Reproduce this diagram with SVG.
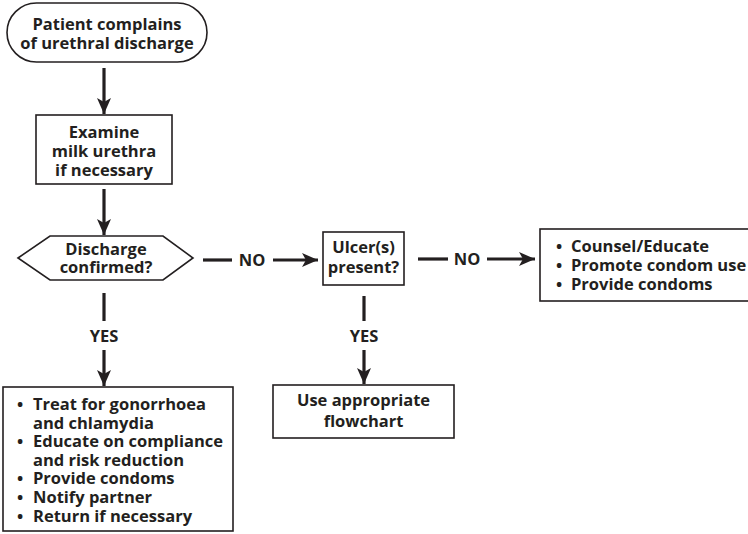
<svg xmlns="http://www.w3.org/2000/svg" width="748" height="534" viewBox="0 0 748 534">
  <defs>
    <marker id="head" markerUnits="userSpaceOnUse" markerWidth="18" markerHeight="14" refX="16" refY="7" orient="auto">
      <path d="M0,0 L16,7 L0,14 L4,7 Z" fill="#231f20"/>
    </marker>
    <style>
      .box { fill: #fff; stroke: #231f20; stroke-width: 1.6; }
      .t { font-family: "Open Sans", "Liberation Sans", sans-serif; font-weight: 700; font-size: 16.5px; fill: #231f20; }
      .c { text-anchor: middle; }
      .ln { stroke: #231f20; stroke-width: 3.2; fill: none; }
      .arr { stroke: #231f20; stroke-width: 3.2; fill: none; marker-end: url(#head); }
    </style>
  </defs>
  <rect width="748" height="534" fill="#fff"/>

  <g id="connectors">
    <line class="arr" x1="104" y1="68" x2="104" y2="114"/>
    <line class="arr" x1="104" y1="189" x2="104" y2="235"/>
    <line class="ln" x1="203" y1="260" x2="232" y2="260"/>
    <text class="t c" x="252" y="266">NO</text>
    <line class="arr" x1="273" y1="260" x2="318" y2="260"/>
    <line class="ln" x1="104" y1="293" x2="104" y2="321"/>
    <text class="t c" x="104" y="342">YES</text>
    <line class="arr" x1="104" y1="350" x2="104" y2="386"/>
    <line class="ln" x1="418" y1="259" x2="448" y2="259"/>
    <text class="t c" x="467" y="265">NO</text>
    <line class="arr" x1="487" y1="259" x2="535" y2="259"/>
    <line class="ln" x1="364" y1="296" x2="364" y2="321"/>
    <text class="t c" x="364" y="342">YES</text>
    <line class="arr" x1="364" y1="350" x2="364" y2="384"/>
  </g>

  <g id="start">
    <rect class="box" x="7" y="3" width="200" height="59" rx="29.5"/>
    <text class="t c" x="107" y="30">Patient complains</text>
    <text class="t c" x="107" y="49">of urethral discharge</text>
  </g>

  <g id="examine">
    <rect class="box" x="36" y="115" width="136" height="69"/>
    <text class="t c" x="104" y="138">Examine</text>
    <text class="t c" x="104" y="157">milk urethra</text>
    <text class="t c" x="104" y="176">if necessary</text>
  </g>

  <g id="discharge">
    <polygon class="box" points="18,258 50,236 163,236 193,258 163,280 50,280"/>
    <text class="t c" x="106" y="255">Discharge</text>
    <text class="t c" x="106" y="273">confirmed?</text>
  </g>

  <g id="ulcer">
    <rect class="box" x="323" y="232" width="81" height="53"/>
    <text class="t c" x="363.5" y="253">Ulcer(s)</text>
    <text class="t c" x="363.5" y="273">present?</text>
  </g>

  <g id="counsel">
    <rect class="box" x="540" y="229" width="220" height="72"/>
    <text class="t" x="556" y="252">•</text>
    <text class="t" x="571" y="252">Counsel/Educate</text>
    <text class="t" x="556" y="271">•</text>
    <text class="t" x="571" y="271">Promote condom use</text>
    <text class="t" x="556" y="290">•</text>
    <text class="t" x="571" y="290">Provide condoms</text>
  </g>

  <g id="flowchart">
    <rect class="box" x="273" y="385" width="181" height="53"/>
    <text class="t c" x="363.5" y="406">Use appropriate</text>
    <text class="t c" x="363.5" y="427">flowchart</text>
  </g>

  <g id="treat">
    <rect class="box" x="3" y="387" width="230" height="144"/>
    <text class="t" x="17" y="410">•</text>
    <text class="t" x="33" y="410">Treat for gonorrhoea</text>
    <text class="t" x="33" y="428.6">and chlamydia</text>
    <text class="t" x="17" y="447.2">•</text>
    <text class="t" x="33" y="447.2">Educate on compliance</text>
    <text class="t" x="33" y="465.8">and risk reduction</text>
    <text class="t" x="17" y="484.4">•</text>
    <text class="t" x="33" y="484.4">Provide condoms</text>
    <text class="t" x="17" y="503">•</text>
    <text class="t" x="33" y="503">Notify partner</text>
    <text class="t" x="17" y="521.6">•</text>
    <text class="t" x="33" y="521.6">Return if necessary</text>
  </g>
</svg>
